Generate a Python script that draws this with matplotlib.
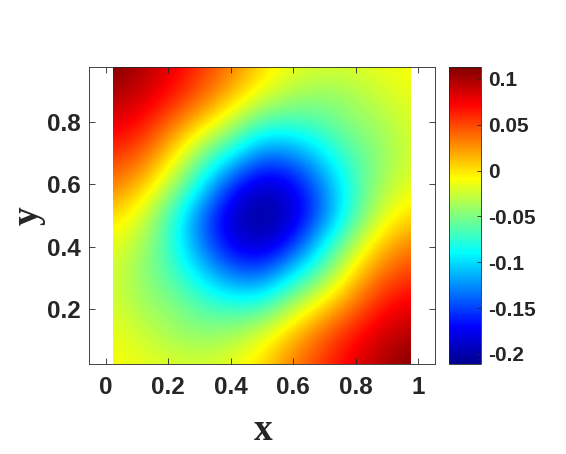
import numpy as np
import matplotlib
matplotlib.use('Agg')
import matplotlib.pyplot as plt
from matplotlib.colors import LinearSegmentedColormap, Normalize
from matplotlib.patches import Rectangle

# grid node coordinates of the field
x_nodes = [0.025, 0.12, 0.215, 0.31, 0.405, 0.5, 0.595, 0.69, 0.785, 0.88, 0.975]
y_nodes = [0.025, 0.12, 0.215, 0.31, 0.405, 0.5, 0.595, 0.69, 0.785, 0.88, 0.975]

# field values, rows from bottom (y=0.025) to top (y=0.975)
row_y00 = [-0.010, -0.015, -0.020, -0.021, -0.015, 0.003, 0.033, 0.055, 0.079, 0.096, 0.113]
row_y01 = [-0.015, -0.025, -0.038, -0.045, -0.037, -0.020, 0.010, 0.040, 0.064, 0.086, 0.096]
row_y02 = [-0.020, -0.038, -0.047, -0.065, -0.076, -0.074, -0.036, 0.000, 0.033, 0.064, 0.079]
row_y03 = [-0.021, -0.045, -0.065, -0.099, -0.133, -0.138, -0.095, -0.055, 0.000, 0.040, 0.055]
row_y04 = [-0.015, -0.037, -0.076, -0.133, -0.178, -0.192, -0.160, -0.095, -0.036, 0.010, 0.033]
row_y05 = [0.003, -0.020, -0.074, -0.138, -0.192, -0.211, -0.192, -0.138, -0.074, -0.020, 0.003]
row_y06 = [0.033, 0.010, -0.036, -0.095, -0.160, -0.192, -0.178, -0.133, -0.076, -0.037, -0.015]
row_y07 = [0.055, 0.040, 0.000, -0.055, -0.095, -0.138, -0.133, -0.099, -0.065, -0.045, -0.021]
row_y08 = [0.079, 0.064, 0.033, 0.000, -0.036, -0.074, -0.076, -0.065, -0.047, -0.038, -0.020]
row_y09 = [0.096, 0.086, 0.064, 0.040, 0.010, -0.020, -0.037, -0.045, -0.038, -0.025, -0.015]
row_y10 = [0.113, 0.096, 0.079, 0.055, 0.033, 0.003, -0.015, -0.021, -0.020, -0.015, -0.010]

color_limits = (-0.211, 0.113)
x_ticks = [0, 0.2, 0.4, 0.6, 0.8, 1]
x_tick_labels = ['0', '0.2', '0.4', '0.6', '0.8', '1']
y_ticks = [0.2, 0.4, 0.6, 0.8]
y_tick_labels = ['0.2', '0.4', '0.6', '0.8']
cbar_ticks = [-0.2, -0.15, -0.1, -0.05, 0, 0.05, 0.1]
cbar_tick_labels = ['-0.2', '-0.15', '-0.1', '-0.05', '0', '0.05', '0.1']

field = np.array([row_y00, row_y01, row_y02, row_y03, row_y04, row_y05,
                  row_y06, row_y07, row_y08, row_y09, row_y10])

# MATLAB-style jet colormap
jet = LinearSegmentedColormap('matlab_jet', {
    'red':   [(0, 0, 0), (0.375, 0, 0), (0.625, 1, 1), (0.875, 1, 1), (1, 0.5, 0.5)],
    'green': [(0, 0, 0), (0.125, 0, 0), (0.375, 1, 1), (0.625, 1, 1), (0.875, 0, 0), (1, 0, 0)],
    'blue':  [(0, 0.5625, 0.5625), (0.125, 1, 1), (0.375, 1, 1), (0.625, 0, 0), (1, 0, 0)],
}, N=256)

W, H = 566, 454
fig = plt.figure(figsize=(W / 100, H / 100), dpi=100)
ax = fig.add_axes([89 / W, (H - 364) / H, 346 / W, 297 / H])

dx = x_nodes[1] - x_nodes[0]
dy = y_nodes[1] - y_nodes[0]
im = ax.imshow(field, origin='lower',
               extent=[x_nodes[0] - dx / 2, x_nodes[-1] + dx / 2,
                       y_nodes[0] - dy / 2, y_nodes[-1] + dy / 2],
               cmap=jet, norm=Normalize(*color_limits),
               interpolation='bicubic', interpolation_stage='data', aspect='auto')
clip = Rectangle((x_nodes[0], y_nodes[0]), x_nodes[-1] - x_nodes[0],
                 y_nodes[-1] - y_nodes[0], transform=ax.transData)
im.set_clip_path(clip)

ax.set_xlim(-0.053, 1.053)
ax.set_ylim(0.025, 0.975)

dark = '#262626'
tick_font = dict(family='Liberation Sans', weight='bold', size=17.5, color=dark)
ax.set_xticks(x_ticks)
ax.set_xticklabels(x_tick_labels, **tick_font)
ax.set_yticks(y_ticks)
ax.set_yticklabels(y_tick_labels, **tick_font)
ax.tick_params(axis='x', direction='in', length=4, width=0.6, top=True, color=dark, pad=9)
ax.tick_params(axis='y', direction='in', length=4, width=0.6, right=True, color=dark, pad=6)
for sp in ax.spines.values():
    sp.set_color(dark)
    sp.set_linewidth(0.6)

fig.text(263 / W, 1 - 430 / H, 'x', ha='center', va='center',
         family='Liberation Serif', weight='bold', size=27, color=dark)
fig.text(28 / W, 1 - 216 / H, 'y', ha='center', va='center', rotation=90,
         family='Liberation Serif', weight='bold', size=27, color=dark)

cax = fig.add_axes([449 / W, (H - 364) / H, 32 / W, 297 / H])
cb = fig.colorbar(im, cax=cax)
cb.set_ticks(cbar_ticks)
cb.set_ticklabels(cbar_tick_labels)
for lab in cax.get_yticklabels():
    lab.set_fontfamily('Liberation Sans')
    lab.set_fontweight('bold')
    lab.set_fontsize(15)
    lab.set_color(dark)
cax.tick_params(direction='in', length=3, width=0.6, color=dark, pad=5)
cb.outline.set_edgecolor(dark)
cb.outline.set_linewidth(0.6)

fig.savefig('out.png', dpi=100)
